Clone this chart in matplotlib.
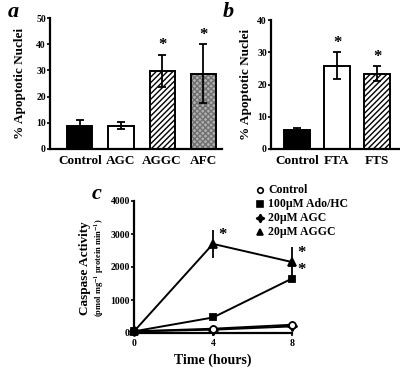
import matplotlib
matplotlib.use("Agg")
import matplotlib.pyplot as plt
import numpy as np

plt.rcParams['font.family'] = ['Liberation Serif', 'DejaVu Serif']
plt.rcParams['font.weight'] = 'bold'
plt.rcParams['hatch.linewidth'] = 1.0
plt.rcParams['mathtext.fontset'] = 'stix'

# Panel a
a_cats = ["Control", "AGC", "AGGC", "AFC"]
a_vals = [8.8, 8.9, 29.8, 28.7]
a_errs = [2.3, 1.3, 6.2, 11.3]
a_star = [False, False, True, True]

# Panel b
b_cats = ["Control", "FTA", "FTS"]
b_vals = [5.9, 25.8, 23.4]
b_errs = [0.7, 4.2, 2.3]
b_star = [False, True, True]

# Panel c
c_time = [0, 4, 8]
c_series = {
    "Control": [50, 130, 250],
    "100\u00b5M Ado/HC": [50, 470, 1650],
    "20\u00b5M AGC": [50, 100, 200],
    "20\u00b5M AGGC": [50, 2700, 2150],
}
c_errs = {
    "Control": [0, 30, 40],
    "100\u00b5M Ado/HC": [0, 60, 100],
    "20\u00b5M AGC": [0, 20, 30],
    "20\u00b5M AGGC": [0, 420, 450],
}
c_star = {"100\u00b5M Ado/HC": [8], "20\u00b5M AGGC": [4, 8]}

W, H = 400, 369
fig = plt.figure(figsize=(4.0, 3.69), dpi=100)

def ax_px(l, r, t, b):
    return fig.add_axes([l / W, 1 - b / H, (r - l) / W, (b - t) / H])

def style(ax):
    for s in ['top', 'right']:
        ax.spines[s].set_visible(False)
    for s in ['left', 'bottom']:
        ax.spines[s].set_linewidth(1.6)
    ax.tick_params(axis='y', labelsize=7, length=2, width=1.2, pad=1)
    ax.tick_params(axis='x', length=0, labelsize=9.5, pad=4)
    for lab in ax.get_yticklabels() + ax.get_xticklabels():
        lab.set_fontweight('bold')

# ---- panel a
axa = ax_px(50, 222, 18, 149)
fills = ['black', 'white', 'white', '#b0b0b0']
hatches = [None, None, '//////', 'xxxxxx']
hcols = ['black', 'black', 'black', '#707070']
x = np.arange(len(a_cats))
for i in range(len(a_cats)):
    axa.bar(x[i], a_vals[i], width=0.61, color=fills[i], edgecolor=hcols[i],
            hatch=hatches[i], linewidth=0, zorder=2)
    axa.bar(x[i], a_vals[i], width=0.61, color='none', edgecolor='black',
            linewidth=1.4, zorder=3)
axa.errorbar(x, a_vals, yerr=a_errs, fmt='none', ecolor='black', elinewidth=1.3,
             capsize=3, capthick=1.3, zorder=4)
for i in range(len(a_cats)):
    if a_star[i]:
        axa.text(x[i], a_vals[i] + a_errs[i] + 0.5, "*", ha='center', va='bottom',
                 fontsize=12, fontweight='bold')
axa.set_xlim(-0.73, 3.46)
axa.set_ylim(0, 50)
axa.set_yticks([0, 10, 20, 30, 40, 50])
axa.set_xticks(x)
axa.set_xticklabels(a_cats)
axa.set_ylabel("% Apoptotic Nuclei", fontsize=9.5, fontweight='bold', labelpad=7)
style(axa)

# ---- panel b
axb = ax_px(271, 399, 20, 149)
bfills = ['black', 'white', 'white']
bhatch = [None, None, '//////']
xb = np.arange(len(b_cats))
for i in range(len(b_cats)):
    axb.bar(xb[i], b_vals[i], width=0.67, color=bfills[i], edgecolor='black',
            hatch=bhatch[i], linewidth=0, zorder=2)
    axb.bar(xb[i], b_vals[i], width=0.67, color='none', edgecolor='black',
            linewidth=1.4, zorder=3)
axb.errorbar(xb, b_vals, yerr=b_errs, fmt='none', ecolor='black', elinewidth=1.3,
             capsize=3, capthick=1.3, zorder=4)
for i in range(len(b_cats)):
    if b_star[i]:
        axb.text(xb[i], b_vals[i] + b_errs[i] + 0.4, "*", ha='center', va='bottom',
                 fontsize=12, fontweight='bold')
axb.set_xlim(-0.65, 2.55)
axb.set_ylim(0, 40)
axb.set_yticks([0, 10, 20, 30, 40])
axb.set_xticks(xb)
axb.set_xticklabels(b_cats)
axb.set_ylabel("% Apoptotic Nuclei", fontsize=9.5, fontweight='bold', labelpad=4)
style(axb)

# ---- panel c
axc = ax_px(134, 292, 201, 333)
markers = {"Control": 'o', "100\u00b5M Ado/HC": 's', "20\u00b5M AGC": (4, 1, 0),
           "20\u00b5M AGGC": '^'}
faces = {"Control": 'white', "100\u00b5M Ado/HC": 'black', "20\u00b5M AGC": 'black',
         "20\u00b5M AGGC": 'black'}
sizes = {"Control": 5, "100\u00b5M Ado/HC": 5, "20\u00b5M AGC": 7, "20\u00b5M AGGC": 6}
for name in ["20\u00b5M AGC", "Control", "100\u00b5M Ado/HC", "20\u00b5M AGGC"]:
    vals = c_series[name]
    eb = axc.errorbar(c_time, vals, yerr=c_errs[name], color='black', lw=1.4,
                      marker=markers[name], ms=sizes[name], mfc=faces[name],
                      mec='black', mew=1.3, elinewidth=1.3, capsize=0,
                      clip_on=False, zorder=3)
    eb.lines[0].set_clip_on(False)
for name, ts in c_star.items():
    for t in ts:
        i = c_time.index(t)
        axc.text(t + 0.25, c_series[name][i] + 20, "*", ha='left', va='bottom',
                 fontsize=12, fontweight='bold')
axc.set_xlim(0, 8)
axc.set_ylim(0, 4000)
axc.set_xticks([0, 4, 8])
axc.set_yticks([0, 1000, 2000, 3000, 4000])
style(axc)
axc.tick_params(axis='x', length=2, width=1.2, labelsize=7, pad=2)
axc.set_xlabel("Time (hours)", fontsize=10, fontweight='bold', labelpad=4)

fig.text(85 / W, 1 - 268 / H, "Caspase Activity", rotation=90, ha='center',
         va='center', fontsize=9.5, fontweight='bold')
fig.text(99 / W, 1 - 268 / H,
         "(pmol mg$^{\\mathbf{-1}}$ protein min$^{\\mathbf{-1}}$)",
         rotation=90, ha='center', va='center', fontsize=6, fontweight='bold')

# legend
leg_names = ["Control", "100\u00b5M Ado/HC", "20\u00b5M AGC", "20\u00b5M AGGC"]
leg_y = [190, 204, 218, 232]
for name, yy in zip(leg_names, leg_y):
    fig.lines.append(plt.Line2D([260 / W], [1 - yy / H], transform=fig.transFigure,
                                marker=markers[name], ms=sizes[name] - 1,
                                mfc=faces[name], mec='black', mew=1.2, ls='none'))
    fig.text(268 / W, 1 - yy / H, name, ha='left', va='center', fontsize=8.5,
             fontweight='bold')

# panel letters
for lab, px, py in [("a", 13, 12), ("b", 228, 12), ("c", 97, 194)]:
    fig.text(px / W, 1 - py / H, lab, ha='center', va='center', fontsize=16,
             fontweight='bold', fontstyle='italic')

fig.savefig("out.png", dpi=100)
